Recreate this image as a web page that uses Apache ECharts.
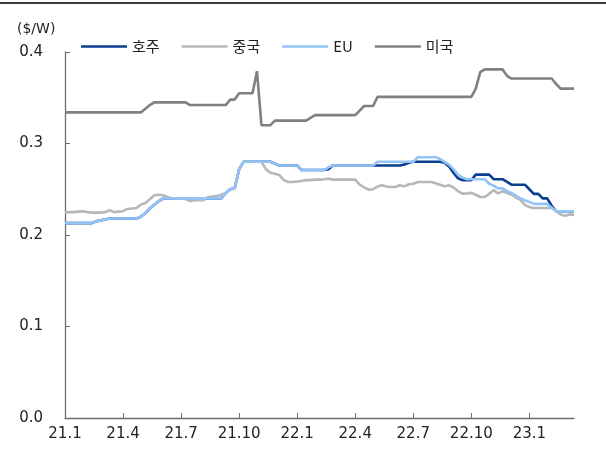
<!DOCTYPE html>
<html>
<head>
<meta charset="utf-8">
<script src="https://cdn.jsdelivr.net/npm/echarts@6/dist/echarts.min.js"></script>
<style>
html,body{margin:0;padding:0;background:#fff;}
#chart{width:606px;height:454px;}
</style>
</head>
<body>
<div id="chart"></div>
<script>
// Quarter tick labels (one every 13 weeks)
var tickLabels = ['21.1','21.4','21.7','21.10','22.1','22.4','22.7','22.10','23.1'];
var seriesNames = ['호주','중국','EU','미국'];
var unitLabel = '($/W)';

// Weekly values ($/W)
var australia = [
0.213,0.213,0.213,0.213,0.213,0.213,0.213,0.215,0.216,0.217,
0.218,0.218,0.218,0.218,0.218,0.218,0.218,0.220,0.224,0.229,
0.233,0.237,0.240,0.240,0.240,0.240,0.240,0.240,0.240,0.240,
0.240,0.240,0.240,0.240,0.240,0.240,0.246,0.250,0.251,0.272,
0.280,0.280,0.280,0.280,0.280,0.280,0.280,0.278,0.276,0.276,
0.276,0.276,0.276,0.271,0.271,0.271,0.271,0.271,0.271,0.272,
0.276,0.276,0.276,0.276,0.276,0.276,0.276,0.276,0.276,0.276,
0.276,0.276,0.276,0.276,0.276,0.276,0.277,0.279,0.280,0.280,
0.280,0.280,0.280,0.280,0.280,0.279,0.275,0.268,0.262,0.260,
0.260,0.260,0.266,0.266,0.266,0.266,0.261,0.261,0.261,0.258,
0.255,0.255,0.255,0.255,0.250,0.245,0.245,0.240,0.240,0.232,
0.226,0.226,0.226,0.226,0.226];

var china = [
0.2245,0.225,0.225,0.2255,0.226,0.225,0.2245,0.2245,0.2245,0.225,
0.227,0.225,0.2255,0.226,0.2285,0.229,0.2295,0.2332,0.235,0.239,
0.2434,0.244,0.2435,0.2415,0.240,0.240,0.240,0.2395,0.2372,0.238,
0.238,0.238,0.2415,0.242,0.2426,0.244,0.246,0.250,0.251,0.272,
0.280,0.280,0.280,0.280,0.280,0.272,0.268,0.267,0.2655,0.260,
0.258,0.258,0.2585,0.259,0.260,0.260,0.2605,0.2605,0.261,0.2616,
0.2605,0.2605,0.2605,0.2605,0.2605,0.2605,0.255,0.252,0.2495,0.250,
0.253,0.2543,0.253,0.2525,0.2525,0.2543,0.2532,0.2554,0.256,0.258,
0.258,0.258,0.258,0.2565,0.255,0.2532,0.2543,0.252,0.248,0.2452,
0.2455,0.246,0.244,0.2415,0.2415,0.245,0.249,0.2455,0.2478,0.246,
0.244,0.241,0.2385,0.233,0.2305,0.2295,0.2295,0.2295,0.2295,0.2295,
0.226,0.2225,0.221,0.2225,0.222];

var eu = [
0.213,0.213,0.213,0.213,0.213,0.213,0.213,0.215,0.216,0.217,
0.218,0.218,0.218,0.218,0.218,0.218,0.218,0.220,0.224,0.229,
0.233,0.237,0.240,0.240,0.240,0.240,0.240,0.240,0.240,0.240,
0.240,0.240,0.240,0.240,0.240,0.240,0.246,0.250,0.251,0.272,
0.280,0.280,0.280,0.280,0.280,0.280,0.280,0.278,0.276,0.276,
0.276,0.276,0.276,0.271,0.271,0.271,0.271,0.271,0.271,0.274,
0.276,0.276,0.276,0.276,0.276,0.276,0.276,0.276,0.276,0.276,
0.280,0.280,0.280,0.280,0.280,0.280,0.280,0.280,0.280,0.285,
0.285,0.285,0.285,0.285,0.283,0.280,0.277,0.272,0.266,0.263,
0.261,0.261,0.261,0.261,0.261,0.256,0.254,0.251,0.251,0.248,
0.246,0.243,0.240,0.238,0.236,0.234,0.234,0.234,0.234,0.230,
0.226,0.226,0.226,0.226,0.226];

var usa = [
0.334,0.334,0.334,0.334,0.334,0.334,0.334,0.334,0.334,0.334,
0.334,0.334,0.334,0.334,0.334,0.334,0.334,0.334,0.338,0.342,
0.345,0.345,0.345,0.345,0.345,0.345,0.345,0.345,0.342,0.342,
0.342,0.342,0.342,0.342,0.342,0.342,0.342,0.348,0.348,0.355,
0.355,0.355,0.355,0.379,0.320,0.320,0.320,0.325,0.325,0.325,
0.325,0.325,0.325,0.325,0.325,0.328,0.331,0.331,0.331,0.331,
0.331,0.331,0.331,0.331,0.331,0.331,0.336,0.341,0.341,0.341,
0.351,0.351,0.351,0.351,0.351,0.351,0.351,0.351,0.351,0.351,
0.351,0.351,0.351,0.351,0.351,0.351,0.351,0.351,0.351,0.351,
0.351,0.351,0.360,0.378,0.381,0.381,0.381,0.381,0.381,0.374,
0.371,0.371,0.371,0.371,0.371,0.371,0.371,0.371,0.371,0.371,
0.365,0.360,0.360,0.360,0.360];

var WEEKS_PER_TICK = 13;
var categories = australia.map(function (_, i) {
  return (i % WEEKS_PER_TICK === 0 && tickLabels[i / WEEKS_PER_TICK]) ? tickLabels[i / WEEKS_PER_TICK] : ('w' + i);
});

var colors = ['#0b3d91', '#b7b7b7', '#92c5f6', '#808080'];
var dataSets = [australia, china, eu, usa];
var font = 'DejaVu Sans';

var chart = echarts.init(document.getElementById('chart'), null, {renderer: 'canvas'});
chart.setOption({
  animation: false,
  backgroundColor: '#ffffff',
  textStyle: {fontFamily: font},
  grid: {left: 65, right: 32, top: 52, bottom: 36, containLabel: false},
  legend: {
    left: 76, top: 34,
    itemWidth: 46, itemHeight: 10, itemGap: 22,
    textStyle: {fontSize: 15, color: '#222', fontFamily: 'Noto Sans CJK KR'},
    data: seriesNames.map(function (n) { return {name: n, icon: 'path://M0,3.7 L46,3.7 L46,6.3 L0,6.3 Z'}; })
  },
  graphic: [
    {type: 'rect', shape: {x: 0, y: 2, width: 606, height: 2}, style: {fill: '#3c3c3c'}, silent: true},
    {type: 'text', left: 17, top: 22, style: {text: unitLabel, font: '14px ' + font, fill: '#222'}}
  ],
  xAxis: {
    type: 'category',
    data: categories,
    boundaryGap: false,
    axisLine: {lineStyle: {color: '#6e6e6e', width: 1.3}},
    axisTick: {inside: true, length: 5, lineStyle: {color: '#6e6e6e', width: 1},
      interval: function (i) { return i % WEEKS_PER_TICK === 0; }},
    axisLabel: {
      interval: function (i) { return i % WEEKS_PER_TICK === 0; },
      color: '#222', fontSize: 15, margin: 9, fontFamily: font
    },
    splitLine: {show: false}
  },
  yAxis: {
    type: 'value', min: 0, max: 0.4, interval: 0.1,
    axisLine: {show: true, lineStyle: {color: '#6e6e6e', width: 1.3}},
    axisTick: {show: true, inside: true, length: 5, lineStyle: {color: '#6e6e6e', width: 1}},
    axisLabel: {color: '#222', fontSize: 15, margin: 22, fontFamily: font,
      formatter: function (v) { return v.toFixed(1); }},
    splitLine: {show: false}
  },
  series: seriesNames.map(function (n, k) {
    return {
      name: n, type: 'line', data: dataSets[k], symbol: 'none', smooth: false,
      lineStyle: {color: colors[k], width: 2.6}, itemStyle: {color: colors[k]}
    };
  })
});
</script>
</body>
</html>
